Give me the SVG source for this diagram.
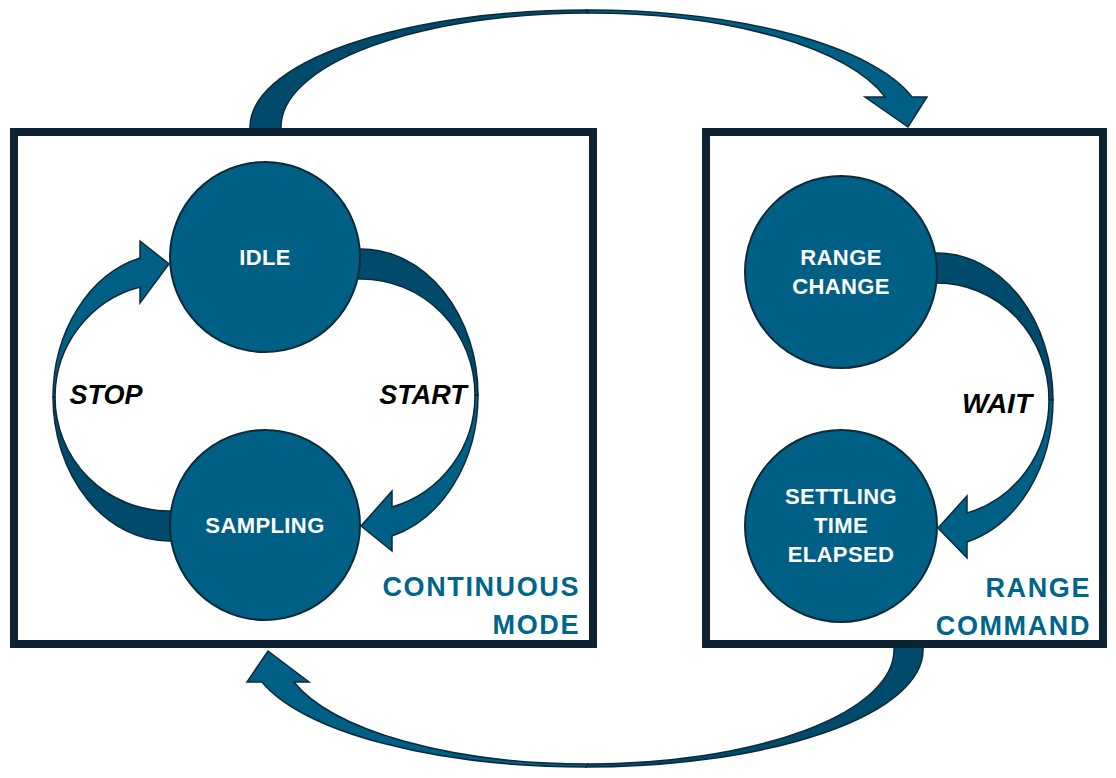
<svg xmlns="http://www.w3.org/2000/svg" width="1116" height="778" viewBox="0 0 1116 778">
<style>
.back{fill:#004a6b;stroke:#0d2a3a;stroke-width:1.5;stroke-linejoin:miter}
.front{fill:#005f84;stroke:#0d2a3a;stroke-width:1.5;stroke-linejoin:miter}
.box{fill:#ffffff;stroke:#0b2232;stroke-width:8}
.state{fill:#005f84;stroke:#0d2a3a;stroke-width:2}
.st{font-family:"Liberation Sans",Arial,sans-serif;font-weight:bold;font-size:22px;fill:#ffffff;text-anchor:middle;letter-spacing:0.4px}
.ev{font-family:"Liberation Sans",Arial,sans-serif;font-weight:bold;font-style:italic;font-size:27px;fill:#000000;text-anchor:middle}
.mode{font-family:"Liberation Sans",Arial,sans-serif;font-weight:bold;font-size:27px;fill:#00658a;text-anchor:end;letter-spacing:1.6px}
</style>
<rect width="1116" height="778" fill="#ffffff"/>
<g id="connectors-outer">
  <g id="arrow-top">
    <path class="back" d="M 250,132 L 250,127 A 337 117 0 0 1 587,10 L 588,13 A 307 114 0 0 0 281,127 L 281,132 Z"/>
    <path class="front" d="M 587,10 A 337 117 0 0 1 912,97 L 927,97 L 908,127 L 865,97 L 885,97 A 307 114 0 0 0 588,13 Z"/>
  </g>
  <g id="arrow-bottom">
    <path class="back" d="M 923,645 L 923,650 A 337 117 0 0 1 586,767 L 588,764 A 306 114 0 0 0 894,650 L 894,645 Z"/>
    <path class="front" d="M 586,767 A 337 117 0 0 1 262,682 L 247,682 L 268,651 L 309,682 L 294,682 A 306 114 0 0 0 588,764 Z"/>
  </g>
</g>
<g id="continuous-mode">
  <rect class="box" x="14" y="132" width="579" height="512"/>
  <text class="mode" x="580" y="596">CONTINUOUS</text>
  <text class="mode" x="580" y="634">MODE</text>
</g>
<g id="range-command">
  <rect class="box" x="706" y="132" width="397" height="512"/>
  <text class="mode" x="1091" y="597">RANGE</text>
  <text class="mode" x="1091" y="635">COMMAND</text>
</g>
<g id="connectors">
  <g id="arrow-start">
    <path class="back" d="M 345,249 L 361,249 A 117 146 0 0 1 478,395 L 475,395 A 114 116 0 0 0 361,279 L 345,279 Z"/>
    <path class="front" d="M 478,395 A 117 146 0 0 1 392,536 L 392,551 L 361,526 L 392,491 L 392,507 A 114 116 0 0 0 475,395 Z"/>
  </g>
  <g id="arrow-stop">
    <path class="back" d="M 185,541 L 169,541 A 116 144 0 0 1 53,397 L 55,397 A 114 114 0 0 0 169,511 L 185,511 Z"/>
    <path class="front" d="M 53,397 A 116 144 0 0 1 140,258 L 140,241 L 169,264 L 140,303 L 140,287 A 114 114 0 0 0 55,397 Z"/>
  </g>
  <g id="arrow-wait">
    <path class="back" d="M 921,253 L 937,253 A 116 147 0 0 1 1053,400 L 1049,400 A 112 117 0 0 0 937,283 L 921,283 Z"/>
    <path class="front" d="M 1053,400 A 116 147 0 0 1 967,542 L 967,558 L 938,528 L 967,496 L 967,513 A 112 117 0 0 0 1049,400 Z"/>
  </g>
  <text class="ev" x="106" y="404">STOP</text>
  <text class="ev" x="423" y="404">START</text>
  <text class="ev" style="font-size:28px" x="997" y="413">WAIT</text>
</g>
<g id="idle">
  <circle class="state" cx="265" cy="257" r="95"/>
  <text class="st" x="265" y="265">IDLE</text>
</g>
<g id="sampling">
  <circle class="state" cx="265" cy="525" r="95"/>
  <text class="st" x="265" y="533">SAMPLING</text>
</g>
<g id="range-change">
  <circle class="state" cx="841" cy="272" r="96"/>
  <text class="st" x="841" y="265">RANGE</text>
  <text class="st" x="841" y="294">CHANGE</text>
</g>
<g id="settling-time-elapsed">
  <circle class="state" cx="841" cy="526" r="96"/>
  <text class="st" x="841" y="504">SETTLING</text>
  <text class="st" x="841" y="533">TIME</text>
  <text class="st" x="841" y="562">ELAPSED</text>
</g>
</svg>
